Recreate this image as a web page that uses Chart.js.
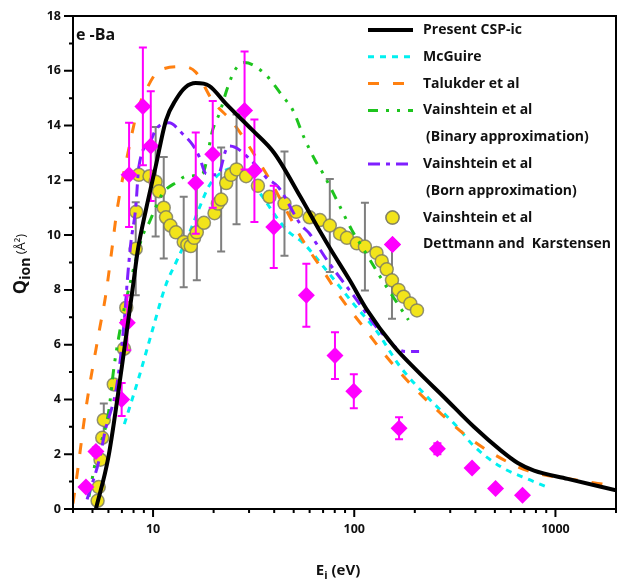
<!DOCTYPE html>
<html>
<head>
<meta charset="utf-8">
<script src="https://cdn.jsdelivr.net/npm/chart.js@4.4.1/dist/chart.umd.min.js"></script>
<style>
  html, body { margin: 0; padding: 0; background: #fff; }
</style>
</head>
<body>
<canvas id="chart" width="619" height="579"></canvas>
<script>
// axis ticks
const xTicks = [4, 5, 6, 7, 8, 9, 10, 20, 30, 40, 50, 60, 70, 80, 90, 100, 200, 300, 400, 500, 600, 700, 800, 900, 1000, 2000];
const xLabels = [10, 100, 1000];
const yTicks = [0, 1, 2, 3, 4, 5, 6, 7, 8, 9, 10, 11, 12, 13, 14, 15, 16, 17, 18];

// Present CSP-ic
const eCsp = [5.2, 6.0, 7.0, 8.0, 8.4, 9.2, 10.3, 11.6, 13, 14.5, 16.3, 19, 23, 31, 40, 54, 68, 76, 95, 115, 157, 205, 278, 393, 533, 650, 783, 1150, 2000];
const qCsp = [0, 1.9, 5.2, 8.3, 9.45, 10.9, 12.5, 14.2, 14.95, 15.4, 15.55, 15.45, 14.8, 13.85, 13.0, 11.4, 10.1, 9.5, 8.35, 7.3, 5.95, 5.05, 4.1, 3.0, 2.15, 1.68, 1.4, 1.1, 0.68];

// McGuire
const eMcg = [7.2, 8.5, 9.9, 11.6, 13, 15, 17, 19, 22, 26, 29, 35, 46, 56, 73, 99, 129, 169, 230, 325, 393, 533, 753, 912];
const qMcg = [3.1, 4.8, 6.5, 8.2, 9.0, 10.0, 11.0, 11.8, 12.3, 12.45, 12.3, 11.4, 10.2, 9.7, 8.7, 7.5, 6.5, 5.2, 4.1, 3.0, 2.3, 1.55, 1.05, 0.8];

// Talukder et al
const eTal = [4.0, 4.2, 4.6, 5.4, 5.8, 6.3, 6.6, 7.6, 8.4, 8.9, 10.7, 14, 16.3, 19.8, 25, 31.5, 37.5, 46.8, 55.6, 70, 85, 107, 145, 197, 268, 364, 494, 726, 1290, 1820];
const qTal = [0.2, 1.3, 3.5, 6.5, 7.75, 9.7, 10.85, 13.2, 14.6, 15.05, 16.0, 16.15, 15.95, 14.9, 14.1, 13.0, 12.1, 10.8, 9.8, 8.7, 7.75, 6.8, 5.55, 4.45, 3.5, 2.65, 2.0, 1.4, 1.05, 0.88];

// Vainshtein et al (Binary approximation)
const eBin = [4.8, 5.2, 6.0, 6.4, 7.0, 7.75, 8.85, 9.55, 11.1, 13.2, 14.6, 17.6, 19.8, 21.4, 23.5, 25.4, 28.4, 35.2, 44.3, 49.6, 56, 63.7, 70, 81.6, 97, 111, 134, 148, 186];
const qBin = [0.45, 1.8, 3.5, 5.2, 6.9, 8.35, 9.95, 10.45, 11.5, 11.95, 12.15, 12.25, 13.85, 14.45, 15.4, 16.0, 16.3, 15.95, 15.05, 14.55, 13.6, 12.75, 12.25, 11.3, 10.2, 9.5, 8.5, 8.0, 6.9];

// Vainshtein et al (Born approximation)
const eBorn = [4.7, 5.4, 5.8, 6.6, 7.2, 7.45, 7.75, 8.2, 8.5, 9.75, 10.3, 12, 14, 15.7, 17, 18.3, 21, 23, 24, 32, 36.5, 42, 54, 60, 73, 99, 134, 180, 210];
const qBorn = [0.35, 1.8, 2.9, 4.5, 6.9, 8.35, 9.7, 11.0, 12.5, 13.45, 13.85, 14.1, 13.7, 13.3, 12.85, 12.25, 12.2, 13.1, 13.25, 12.6, 12.1, 11.75, 10.4, 10.05, 9.1, 7.8, 6.5, 5.75, 5.75];

// Vainshtein et al (experiment, circles)
const eVexp = [5.3, 5.37, 5.48, 5.59, 5.69, 6.38, 7.17, 7.36, 8.2, 8.25, 8.5, 9.6, 10.3, 10.7, 11.3, 11.6, 12.2, 13.0, 14.2, 14.8, 15.4, 16.0, 16.5, 17.9, 20.2, 21.0, 21.8, 23.1, 24.4, 26, 29, 33.2, 37.9, 45, 51.5, 60, 67.5, 75.6, 85, 92, 103, 113, 129, 137, 145, 154, 166, 176, 190, 205];
const qVexp = [0.3, 0.8, 1.8, 2.6, 3.25, 4.55, 5.85, 7.35, 9.5, 10.85, 12.2, 12.15, 11.95, 11.6, 11.0, 10.65, 10.35, 10.1, 9.75, 9.65, 9.6, 9.9, 10.1, 10.45, 10.8, 11.15, 11.3, 11.9, 12.2, 12.4, 12.15, 11.8, 11.4, 11.15, 10.85, 10.65, 10.55, 10.35, 10.05, 9.9, 9.7, 9.58, 9.35, 9.05, 8.75, 8.35, 8.0, 7.75, 7.5, 7.25];
const errVexp = [0, 0, 0, 0, 0.6, 0, 0, 0, 1.7, 0,
                 0, 0, 2.0, 0, 1.85, 0, 0, 0, 1.65, 0,
                 0, 0, 1.75, 0, 0, 0, 1.9, 0, 0, 2.0,
                 0, 0, 0, 1.9, 0, 0, 0, 1.7, 0, 0,
                 0, 1.6, 0, 0, 0, 1.4, 0, 0, 0, 0];

// Dettmann and Karstensen
const eDk = [4.64, 5.2, 6.98, 7.45, 7.6, 8.9, 9.74, 16.3, 19.8, 28.5, 31.9, 39.8, 57.8, 80.2, 99.5, 167, 259, 385, 504, 686];
const qDk = [0.8, 2.1, 4.0, 6.8, 12.2, 14.7, 13.25, 11.9, 12.95, 14.55, 12.35, 10.3, 7.8, 5.6, 4.3, 2.95, 2.2, 1.5, 0.75, 0.5];
const errDk = [0.1, 0.15, 0.6, 1.0, 1.9, 2.15, 2.0, 1.85, 1.95, 2.15, 1.87, 1.5, 1.15, 0.85, 0.62, 0.4, 0.2, 0, 0, 0];

const FONT = '"Open Sans"';

const pts = (xs, ys) => xs.map((x, i) => ({ x: x, y: ys[i] }));

const lineBase = { showLine: true, pointRadius: 0, fill: false, cubicInterpolationMode: 'monotone', borderCapStyle: 'butt' };

// first dataset is drawn on top
const datasets = [
    Object.assign({ label: 'Present CSP-ic', data: pts(eCsp, qCsp), borderColor: '#000', borderWidth: 4 }, lineBase),
    { label: 'Dettmann and  Karstensen', data: pts(eDk, qDk), errors: errDk, errColor: '#ff00ff',
      pointStyle: 'rectRot', pointRadius: 8.5, backgroundColor: '#ff00ff', borderColor: '#ff00ff', borderWidth: 0, showLine: false },
    Object.assign({ label: 'Vainshtein et al', data: pts(eBorn, qBorn), borderColor: '#7f1fff', borderWidth: 3, borderDash: [12, 6, 4, 6] }, lineBase),
    Object.assign({ label: 'Vainshtein et al', data: pts(eBin, qBin), borderColor: '#1ec41e', borderWidth: 3, borderDash: [10, 8, 3, 8, 3, 8] }, lineBase),
    { label: 'Vainshtein et al', data: pts(eVexp, qVexp), errors: errVexp, errColor: '#7f7f7f',
      pointStyle: 'circle', pointRadius: 6.5, backgroundColor: '#f2e41a', borderColor: 'rgba(120,120,100,0.8)', borderWidth: 1.5, showLine: false },
    Object.assign({ label: 'Talukder et al', data: pts(eTal, qTal), borderColor: '#ff8010', borderWidth: 3, borderDash: [11, 14] }, lineBase),
    Object.assign({ label: 'McGuire', data: pts(eMcg, qMcg), borderColor: '#00f0f0', borderWidth: 3, borderDash: [6, 6] }, lineBase),
];

// legend rows: dataset index (or null for a continuation line) and text
const legendRows = [
    [0, 'Present CSP-ic'],
    [6, 'McGuire'],
    [5, 'Talukder et al'],
    [3, 'Vainshtein et al'],
    [null, '(Binary approximation)'],
    [2, 'Vainshtein et al'],
    [null, '(Born approximation)'],
    [4, 'Vainshtein et al'],
    [1, 'Dettmann and  Karstensen'],
];

const errorBars = {
    id: 'errorBars',
    beforeDatasetDraw(chart, args) {
        const ds = chart.data.datasets[args.index];
        if (!ds.errors) return;
        const { ctx, scales: { x, y } } = chart;
        ctx.save();
        ctx.strokeStyle = ds.errColor;
        ctx.lineWidth = 2;
        ctx.beginPath();
        ds.data.forEach((p, i) => {
            const e = ds.errors[i];
            if (!e) return;
            const px = x.getPixelForValue(p.x);
            const top = y.getPixelForValue(p.y + e);
            const bot = y.getPixelForValue(p.y - e);
            ctx.moveTo(px, top); ctx.lineTo(px, bot);
            ctx.moveTo(px - 4, top); ctx.lineTo(px + 4, top);
            ctx.moveTo(px - 4, bot); ctx.lineTo(px + 4, bot);
        });
        ctx.stroke();
        ctx.restore();
    }
};

function drawRich(ctx, parts, x, y) {
    let cx = x;
    parts.forEach(p => {
        ctx.font = p.font;
        ctx.fillText(p.t, cx, y + (p.dy || 0));
        cx += ctx.measureText(p.t).width;
    });
}
function richWidth(ctx, parts) {
    return parts.reduce((w, p) => { ctx.font = p.font; return w + ctx.measureText(p.t).width; }, 0);
}

const decorations = {
    id: 'decorations',
    afterDraw(chart) {
        const { ctx, chartArea: a, scales: { x, y } } = chart;
        ctx.save();
        // frame
        ctx.strokeStyle = '#000';
        ctx.lineWidth = 2;
        ctx.strokeRect(a.left, a.top, a.right - a.left, a.bottom - a.top);
        // tick marks
        ctx.beginPath();
        xTicks.forEach(v => {
            const px = x.getPixelForValue(v);
            const len = xLabels.includes(v) ? 8 : 4;
            ctx.moveTo(px, a.bottom); ctx.lineTo(px, a.bottom + len);
        });
        yTicks.forEach(v => {
            const py = y.getPixelForValue(v);
            const len = v % 2 === 0 ? 9 : 4;
            ctx.moveTo(a.left, py); ctx.lineTo(a.left - len, py);
        });
        ctx.stroke();

        ctx.fillStyle = '#111';
        ctx.textBaseline = 'alphabetic';
        ctx.textAlign = 'left';

        // panel label
        ctx.font = 'bold 16px ' + FONT;
        ctx.fillText('e -Ba', 76, 40);

        // x title
        const xt = [
            { t: 'E', font: 'bold 15px ' + FONT },
            { t: 'i', font: 'bold 11px ' + FONT, dy: 4 },
            { t: ' (eV)', font: 'bold 15px ' + FONT },
        ];
        drawRich(ctx, xt, 338 - richWidth(ctx, xt) / 2, 575);

        // y title
        const yt = [
            { t: 'Q', font: 'bold 18px ' + FONT },
            { t: 'ion', font: 'bold 14px ' + FONT, dy: 4 },
            { t: ' (Å²)', font: '13px ' + FONT, dy: -1 },
        ];
        ctx.translate(26, 264);
        ctx.rotate(-Math.PI / 2);
        drawRich(ctx, yt, -richWidth(ctx, yt) / 2, 0);
        ctx.setTransform(1, 0, 0, 1, 0, 0);

        // legend
        const x1 = 368, x2 = 413, tx = 423;
        ctx.textBaseline = 'middle';
        legendRows.forEach((row, i) => {
            const ry = 30 + i * 26.8;
            const idx = row[0];
            ctx.fillStyle = '#111';
            ctx.font = 'bold 14px ' + FONT;
            ctx.fillText(row[1], idx === null ? tx + 3 : tx, ry);
            if (idx === null) return;
            const ds = chart.data.datasets[idx];
            if (ds.showLine) {
                ctx.strokeStyle = ds.borderColor;
                ctx.lineWidth = ds.borderWidth;
                ctx.setLineDash(ds.borderDash || []);
                ctx.beginPath();
                ctx.moveTo(x1, ry); ctx.lineTo(x2, ry);
                ctx.stroke();
                ctx.setLineDash([]);
            } else {
                ctx.fillStyle = ds.backgroundColor;
                ctx.strokeStyle = ds.borderColor;
                ctx.lineWidth = ds.borderWidth || 1;
                const cx = (x1 + x2) / 2 + 2;
                Chart.helpers.drawPoint(ctx, { pointStyle: ds.pointStyle, radius: ds.pointRadius, borderWidth: ds.borderWidth, rotation: 0 }, cx, ry);
                ctx.fill();
                if (ds.borderWidth) ctx.stroke();
            }
        });
        ctx.restore();
    }
};

// keep the plot area fixed, regardless of label sizes
const fixPadding = s => { s.paddingLeft = 0; s.paddingRight = 0; s.paddingTop = 0; s.paddingBottom = 0; };

new Chart(document.getElementById('chart'), {
    type: 'scatter',
    data: { datasets: datasets },
    options: {
        responsive: false,
        animation: false,
        layout: { autoPadding: false, padding: { top: 16, right: 3, left: 0, bottom: 0 } },
        plugins: { legend: { display: false }, tooltip: { enabled: false } },
        scales: {
            x: {
                type: 'logarithmic',
                min: 4,
                max: 2000,
                afterBuildTicks: s => { s.ticks = xTicks.map(v => ({ value: v })); },
                afterFit: s => { s.height = 70; fixPadding(s); },
                grid: { display: false, drawTicks: false },
                border: { display: false },
                ticks: {
                    autoSkip: false,
                    maxRotation: 0,
                    padding: 13,
                    color: '#111',
                    font: { family: FONT, size: 12.5, weight: 'bold' },
                    callback: v => xLabels.includes(v) ? String(v) : '',
                },
            },
            y: {
                min: 0,
                max: 18,
                afterBuildTicks: s => { s.ticks = yTicks.map(v => ({ value: v })); },
                afterFit: s => { s.width = 73; fixPadding(s); },
                grid: { display: false, drawTicks: false },
                border: { display: false },
                ticks: {
                    autoSkip: false,
                    padding: 12,
                    color: '#111',
                    font: { family: FONT, size: 12.5, weight: 'bold' },
                    callback: v => v % 2 === 0 ? String(v) : '',
                },
            },
        },
    },
    plugins: [errorBars, decorations],
});
</script>
</body>
</html>
